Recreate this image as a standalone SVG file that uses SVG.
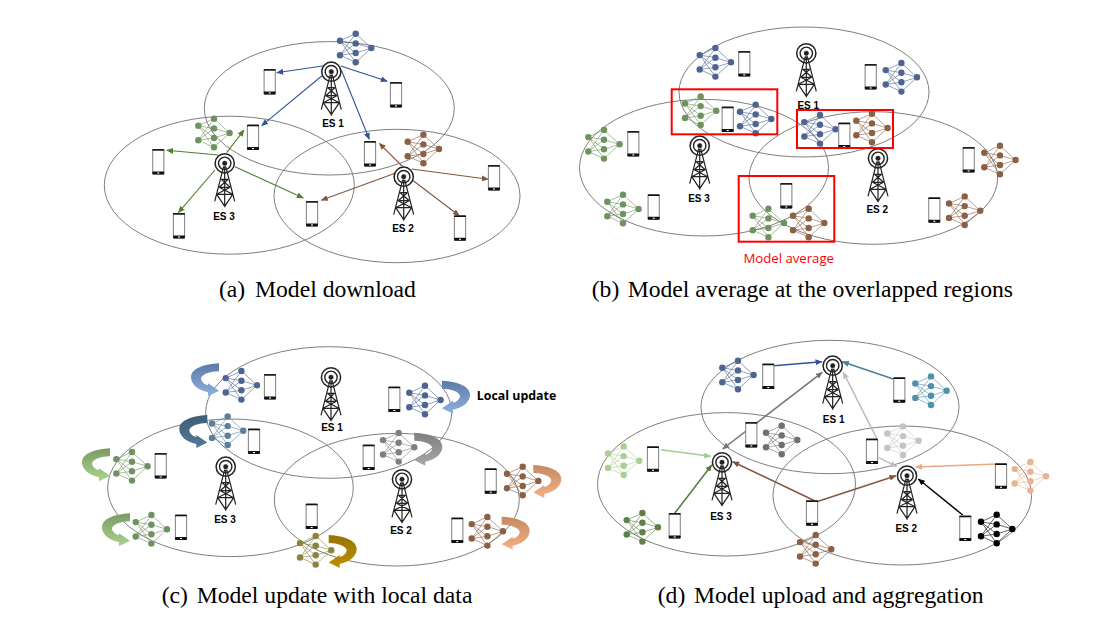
<svg xmlns="http://www.w3.org/2000/svg" width="1095" height="618" viewBox="0 0 1095 618">
<style>
.cell{fill:none;stroke:#7f7f7f;stroke-width:1}
.es{font:bold 10px "Liberation Sans",Arial,sans-serif;fill:#000;text-anchor:middle}
.cap{font:23.65px "Liberation Serif","Times New Roman",serif;fill:#000}
.redbox{fill:none;stroke:#f00;stroke-width:2}
.c{fill:none;stroke-width:1.1}
.c2{fill:none;stroke-width:1.5}
.blue{color:#4e6491}.green{color:#6f9360}.brown{color:#8c6045}.steel{color:#5c7f9c}.gray{color:#808080}.lgray{color:#c4c4c4}.teal{color:#5190ad}.olive{color:#8c8340}.peach{color:#e8b48f}.lgreen{color:#a9cf96}.dgreen{color:#5f7f4b}.black{color:#000}.dgray{color:#707070}
</style>
<defs>
<g id="nn">
<g stroke="currentColor" stroke-width="1" opacity=".6" fill="none">
<path d="M0-7.2L15.7-14.3M0-7.2L15.7-4.6M0-7.2L15.7 5M0-7.2L15.7 14.3M0 7.2L15.7-14.3M0 7.2L15.7-4.6M0 7.2L15.7 5M0 7.2L15.7 14.3M15.7-14.3L31.3 0M15.7-4.6L31.3 0M15.7 5L31.3 0M15.7 14.3L31.3 0"/>
</g>
<g fill="currentColor">
<circle cx="0" cy="-7.2" r="3.2"/><circle cx="0" cy="7.2" r="3.2"/>
<circle cx="15.7" cy="-14.3" r="3.2"/><circle cx="15.7" cy="-4.6" r="3.2"/><circle cx="15.7" cy="5" r="3.2"/><circle cx="15.7" cy="14.3" r="3.2"/>
<circle cx="31.3" cy="0" r="3.2"/>
</g>
</g>
<g id="phone">
<rect x="-5.6" y="-12.2" width="11.2" height="24.4" rx="1" fill="#fff" stroke="#8a8a8a" stroke-width="1.1"/>
<rect x="-5.9" y="-12.6" width="11.8" height="1.6" fill="#111"/>
<rect x="-5.9" y="9.8" width="11.8" height="2.9" rx=".6" fill="#111"/>
<rect x="-1" y="10.7" width="2" height="1.1" fill="#fff"/>
</g>
<g id="tower" fill="none" stroke="#222">
<circle r="9.6" stroke-width="1.5"/><circle r="6.2" stroke-width="1.4"/><circle r="2.2" fill="#222" stroke-width=".6"/>
<path stroke-width="1.2" d="M-1 3L-10 38M1 3L10 38M0 3V44M-3.5 16H3.5M-5.5 24H5.5M-8 31H8M-3.5 16L5.5 24M3.5 16L-5.5 24M-5.5 24L8 31M5.5 24L-8 31M-8 31L0 43M8 31L0 43"/>
</g>
<path id="curl" d="M29 0V8C20 8 12 11 11 15C11 18 14 21 18 22V20L29 27.5L18 33V29C8 27 1 21 1 14C1 6 12 1 29 0Z"/>
<linearGradient id="g-blue" x1="0" y1="0" x2="0" y2="1"><stop offset="0" stop-color="#5b7aa8"/><stop offset="1" stop-color="#8fb0e0"/></linearGradient>
<linearGradient id="g-dark" x1="0" y1="0" x2="0" y2="1"><stop offset="0" stop-color="#3f5d74"/><stop offset="1" stop-color="#54799a"/></linearGradient>
<linearGradient id="g-green" x1="0" y1="0" x2="0" y2="1"><stop offset="0" stop-color="#7c9a64"/><stop offset="1" stop-color="#a8d48c"/></linearGradient>
<linearGradient id="g-gray" x1="0" y1="0" x2="0" y2="1"><stop offset="0" stop-color="#7f7f7f"/><stop offset="1" stop-color="#a8a8a8"/></linearGradient>
<linearGradient id="g-salmon" x1="0" y1="0" x2="0" y2="1"><stop offset="0" stop-color="#c58a62"/><stop offset="1" stop-color="#f4b183"/></linearGradient>
<linearGradient id="g-gold" x1="0" y1="0" x2="0" y2="1"><stop offset="0" stop-color="#947500"/><stop offset="1" stop-color="#bf9000"/></linearGradient>
<marker id="m-blue" markerUnits="userSpaceOnUse" markerWidth="7" markerHeight="6" refX="6.5" refY="3" orient="auto-start-reverse"><path d="M0 0L7 3L0 6Z" fill="#2f5597"/></marker>
<marker id="m-green" markerUnits="userSpaceOnUse" markerWidth="7" markerHeight="6" refX="6.5" refY="3" orient="auto-start-reverse"><path d="M0 0L7 3L0 6Z" fill="#4f7f2f"/></marker>
<marker id="m-brown" markerUnits="userSpaceOnUse" markerWidth="7" markerHeight="6" refX="6.5" refY="3" orient="auto-start-reverse"><path d="M0 0L7 3L0 6Z" fill="#84573c"/></marker>
<marker id="m-teal" markerUnits="userSpaceOnUse" markerWidth="7" markerHeight="6" refX="6.5" refY="3" orient="auto-start-reverse"><path d="M0 0L7 3L0 6Z" fill="#4a7f9f"/></marker>
<marker id="m-gray" markerUnits="userSpaceOnUse" markerWidth="7" markerHeight="6" refX="6.5" refY="3" orient="auto-start-reverse"><path d="M0 0L7 3L0 6Z" fill="#757575"/></marker>
<marker id="m-lgray" markerUnits="userSpaceOnUse" markerWidth="7" markerHeight="6" refX="6.5" refY="3" orient="auto-start-reverse"><path d="M0 0L7 3L0 6Z" fill="#bdbdbd"/></marker>
<marker id="m-lgreen" markerUnits="userSpaceOnUse" markerWidth="7" markerHeight="6" refX="6.5" refY="3" orient="auto-start-reverse"><path d="M0 0L7 3L0 6Z" fill="#a3cc8d"/></marker>
<marker id="m-dgreen" markerUnits="userSpaceOnUse" markerWidth="7" markerHeight="6" refX="6.5" refY="3" orient="auto-start-reverse"><path d="M0 0L7 3L0 6Z" fill="#527a40"/></marker>
<marker id="m-peach" markerUnits="userSpaceOnUse" markerWidth="7" markerHeight="6" refX="6.5" refY="3" orient="auto-start-reverse"><path d="M0 0L7 3L0 6Z" fill="#e8a97e"/></marker>
<marker id="m-black" markerUnits="userSpaceOnUse" markerWidth="7" markerHeight="6" refX="6.5" refY="3" orient="auto-start-reverse"><path d="M0 0L7 3L0 6Z" fill="#000"/></marker>
</defs>
<rect width="1095" height="618" fill="#fff"/>

<g id="panel-a">
<ellipse class="cell" cx="329.3" cy="108.3" rx="125" ry="66.7"/>
<ellipse class="cell" cx="229.3" cy="185.2" rx="125" ry="69"/>
<ellipse class="cell" cx="397" cy="196" rx="123" ry="66.7"/>
<g id="a-model-1" class="blue"><use href="#nn" x="340" y="48"/></g>
<g id="a-model-3" class="green"><use href="#nn" x="198.3" y="133"/></g>
<g id="a-model-2" class="brown"><use href="#nn" x="407.7" y="149"/></g>
<g id="a-connectors">
<g stroke="#2f5597">
<line class="c" x1="324" y1="65.7" x2="276.7" y2="72.7" marker-end="url(#m-blue)"/>
<line class="c" x1="340.7" y1="66" x2="387.3" y2="81.3" marker-end="url(#m-blue)"/>
<line class="c" x1="321.7" y1="76" x2="261.7" y2="125.7" marker-end="url(#m-blue)"/>
<line class="c" x1="341.3" y1="70" x2="369.3" y2="139.3" marker-end="url(#m-blue)"/>
</g>
<g stroke="#4f7f2f">
<line class="c" x1="218.3" y1="155" x2="166.7" y2="150.3" marker-end="url(#m-green)"/>
<line class="c" x1="226.7" y1="152.7" x2="244" y2="130" marker-end="url(#m-green)"/>
<line class="c" x1="215" y1="170" x2="178.3" y2="212.7" marker-end="url(#m-green)"/>
<line class="c" x1="235" y1="166.7" x2="303.3" y2="198" marker-end="url(#m-green)"/>
</g>
<g stroke="#84573c">
<line class="c" x1="395" y1="173.3" x2="321.3" y2="200.3" marker-end="url(#m-brown)"/>
<line class="c" x1="403" y1="167" x2="379.3" y2="143.3" marker-end="url(#m-brown)"/>
<line class="c" x1="411.7" y1="169" x2="488.3" y2="179.3" marker-end="url(#m-brown)"/>
<line class="c" x1="413.3" y1="180.7" x2="459.3" y2="215.7" marker-end="url(#m-brown)"/>
</g>
</g>
<g id="a-phones">
<use href="#phone" x="269.7" y="81.7"/><use href="#phone" x="396" y="94.7"/><use href="#phone" x="253" y="137.3"/><use href="#phone" x="370" y="153.7"/><use href="#phone" x="158.3" y="161.7"/><use href="#phone" x="312" y="213.7"/><use href="#phone" x="179" y="225.7"/><use href="#phone" x="494" y="177.7"/><use href="#phone" x="460" y="228"/>
</g>
<g id="a-es1"><use href="#tower" x="331.3" y="71.7"/><text class="es" x="333" y="127">ES 1</text></g>
<g id="a-es3"><use href="#tower" x="224.7" y="163.3"/><text class="es" x="224" y="220">ES 3</text></g>
<g id="a-es2"><use href="#tower" x="403.7" y="176.7"/><text class="es" x="403" y="231.5">ES 2</text></g>
<text class="cap" y="297"><tspan x="219">(a)</tspan><tspan x="255">Model download</tspan></text>
</g>

<g id="panel-b">
<ellipse class="cell" cx="804" cy="92" rx="125" ry="65"/>
<ellipse class="cell" cx="704" cy="167.7" rx="124.5" ry="68.3"/>
<ellipse class="cell" cx="873.3" cy="178" rx="124.3" ry="66.3"/>
<g id="b-models">
<g class="blue"><use href="#nn" x="699.7" y="62.3"/><use href="#nn" x="885.7" y="77.3"/><use href="#nn" x="740" y="119"/><use href="#nn" x="804.3" y="129.3"/></g>
<g class="green"><use href="#nn" x="685" y="110.7"/><use href="#nn" x="588.3" y="144.3"/><use href="#nn" x="607.3" y="209"/><use href="#nn" x="752.7" y="223"/></g>
<g class="brown"><use href="#nn" x="856.3" y="128"/><use href="#nn" x="793" y="223"/><use href="#nn" x="984.3" y="160"/><use href="#nn" x="949" y="210.7"/></g>
</g>
<g id="b-phones">
<use href="#phone" x="744.3" y="63.7"/><use href="#phone" x="870.7" y="76.7"/><use href="#phone" x="727.7" y="119.3"/><use href="#phone" x="844.3" y="135.3"/><use href="#phone" x="633.3" y="143.7"/><use href="#phone" x="653.7" y="207"/><use href="#phone" x="786.3" y="195.7"/><use href="#phone" x="968.7" y="159.7"/><use href="#phone" x="934.3" y="210"/>
</g>
<g id="b-es1"><use href="#tower" x="806.3" y="53.3"/><text class="es" x="808.3" y="109">ES 1</text></g>
<g id="b-es3"><use href="#tower" x="699.7" y="145.7"/><text class="es" x="699" y="202">ES 3</text></g>
<g id="b-es2"><use href="#tower" x="878" y="158.3"/><text class="es" x="877.3" y="212.5">ES 2</text></g>
<rect class="redbox" x="671.7" y="89.3" width="105.6" height="45"/>
<rect class="redbox" x="797" y="110" width="96" height="38"/>
<rect class="redbox" x="738.7" y="176" width="95.6" height="65.7"/>
<text x="788.7" y="263" text-anchor="middle" fill="#f00" style="font:13.2px 'Open Sans',sans-serif">Model average</text>
<text class="cap" y="297"><tspan x="591.7">(b)</tspan><tspan x="627.7">Model average at the overlapped regions</tspan></text>
</g>

<g id="panel-c">
<ellipse class="cell" cx="328.7" cy="412.5" rx="123" ry="65.8"/>
<ellipse class="cell" cx="230.5" cy="487.8" rx="122.8" ry="68.8"/>
<ellipse class="cell" cx="396.8" cy="499.7" rx="122.5" ry="66.3"/>
<g id="c-models">
<g class="blue"><use href="#nn" x="225.7" y="385.3"/><use href="#nn" x="409.3" y="400"/></g>
<g class="steel"><use href="#nn" x="212" y="430.7"/></g>
<g class="gray"><use href="#nn" x="383" y="447.3"/></g>
<g class="green"><use href="#nn" x="116.3" y="466.3"/><use href="#nn" x="135.7" y="529.3"/></g>
<g class="olive"><use href="#nn" x="300" y="550.3"/></g>
<g class="brown"><use href="#nn" x="507" y="481"/><use href="#nn" x="471.7" y="531.3"/></g>
</g>
<g id="c-phones">
<use href="#phone" x="270" y="386.7"/><use href="#phone" x="394.3" y="399.3"/><use href="#phone" x="254" y="441.3"/><use href="#phone" x="368.7" y="457.3"/><use href="#phone" x="160.7" y="465.7"/><use href="#phone" x="181" y="527.3"/><use href="#phone" x="311.7" y="516.3"/><use href="#phone" x="490.7" y="481"/><use href="#phone" x="457.3" y="530.3"/>
</g>
<g id="c-es1"><use href="#tower" x="331" y="377.3"/><text class="es" x="332" y="431">ES 1</text></g>
<g id="c-es3"><use href="#tower" x="225.7" y="466.7"/><text class="es" x="225" y="522.5">ES 3</text></g>
<g id="c-es2"><use href="#tower" x="402" y="479.3"/><text class="es" x="401" y="534">ES 2</text></g>
<g id="c-local-updates">
<use href="#curl" fill="url(#g-blue)" transform="translate(190 363.3)"/>
<use href="#curl" fill="url(#g-dark)" transform="translate(178.3 415)"/>
<use href="#curl" fill="url(#g-green)" transform="translate(81 448.3)"/>
<use href="#curl" fill="url(#g-green)" transform="translate(101 513.3)"/>
<use href="#curl" fill="url(#g-blue)" transform="translate(471 380.7) scale(-1 1)"/>
<use href="#curl" fill="url(#g-gray)" transform="translate(443.3 432.7) scale(-1 1)"/>
<use href="#curl" fill="url(#g-salmon)" transform="translate(562.3 465) scale(-1 1)"/>
<use href="#curl" fill="url(#g-salmon)" transform="translate(530.7 516.7) scale(-1 1)"/>
<use href="#curl" fill="url(#g-gold)" transform="translate(357.7 535) scale(-1 1)"/>
</g>
<text x="516.5" y="400" text-anchor="middle" fill="#000" style="font:bold 12.4px 'Open Sans',sans-serif">Local update</text>
<text class="cap" y="603"><tspan x="161.7">(c)</tspan><tspan x="196.7">Model update with local data</tspan></text>
</g>

<g id="panel-d">
<ellipse class="cell" cx="830" cy="407" rx="129" ry="66.7"/>
<ellipse class="cell" cx="726.5" cy="484.3" rx="129" ry="71.7"/>
<ellipse class="cell" cx="902.3" cy="495.5" rx="129.3" ry="69.5"/>
<g id="d-models">
<g class="blue"><use href="#nn" x="722.3" y="375"/></g>
<g class="teal"><use href="#nn" x="915.3" y="390.7"/></g>
<g class="dgray"><use href="#nn" x="766" y="440"/></g>
<g class="lgray"><use href="#nn" x="887.3" y="440.7"/></g>
<g class="lgreen"><use href="#nn" x="608" y="460.7"/></g>
<g class="dgreen"><use href="#nn" x="626.7" y="527.3"/></g>
<g class="brown"><use href="#nn" x="800" y="549.3"/></g>
<g class="peach"><use href="#nn" x="1014.7" y="476.3"/></g>
<g class="black"><use href="#nn" x="981" y="529"/></g>
</g>
<g id="d-connectors">
<line class="c2" stroke="#2f5597" x1="774" y1="365.7" x2="822" y2="361.7" marker-end="url(#m-blue)"/>
<line class="c2" stroke="#4a7f9f" x1="893.3" y1="379" x2="842.3" y2="361.7" marker-end="url(#m-teal)"/>
<line class="c2" stroke="#757575" x1="722.7" y1="449" x2="822.3" y2="372.3" marker-start="url(#m-gray)" marker-end="url(#m-gray)"/>
<line class="c2" stroke="#bdbdbd" x1="876.7" y1="438.3" x2="843.3" y2="372.3" marker-end="url(#m-lgray)"/>
<line class="c2" stroke="#bdbdbd" x1="878.7" y1="457.7" x2="896.7" y2="466.7" marker-end="url(#m-lgray)"/>
<line class="c2" stroke="#a3cc8d" x1="661" y1="449.7" x2="710.7" y2="456.3" marker-end="url(#m-lgreen)"/>
<line class="c2" stroke="#527a40" x1="674.7" y1="513.3" x2="711.7" y2="465" marker-end="url(#m-dgreen)"/>
<line class="c2" stroke="#84573c" x1="816.7" y1="501.7" x2="732.7" y2="461.7" marker-end="url(#m-brown)"/>
<line class="c2" stroke="#84573c" x1="816.7" y1="501.7" x2="896" y2="475.7" marker-end="url(#m-brown)"/>
<line class="c2" stroke="#e8a97e" x1="997.3" y1="464" x2="915.7" y2="467" marker-end="url(#m-peach)"/>
<line class="c2" stroke="#000" x1="962.7" y1="515" x2="918.3" y2="479" marker-end="url(#m-black)"/>
</g>
<g id="d-phones">
<use href="#phone" x="768.3" y="376.3"/><use href="#phone" x="899.3" y="390"/><use href="#phone" x="751.3" y="434.7"/><use href="#phone" x="872" y="451.3"/><use href="#phone" x="653" y="459"/><use href="#phone" x="674.7" y="525.7"/><use href="#phone" x="812" y="513"/><use href="#phone" x="1001" y="476"/><use href="#phone" x="965.3" y="528.3"/>
</g>
<g id="d-es1"><use href="#tower" x="832.7" y="365.7"/><text class="es" x="833.7" y="422.5">ES 1</text></g>
<g id="d-es3"><use href="#tower" x="722" y="462.3"/><text class="es" x="721" y="519.5">ES 3</text></g>
<g id="d-es2"><use href="#tower" x="907" y="475.7"/><text class="es" x="906.3" y="531.5">ES 2</text></g>
<text class="cap" y="603"><tspan x="657.7">(d)</tspan><tspan x="694">Model upload and aggregation</tspan></text>
</g>
</svg>
